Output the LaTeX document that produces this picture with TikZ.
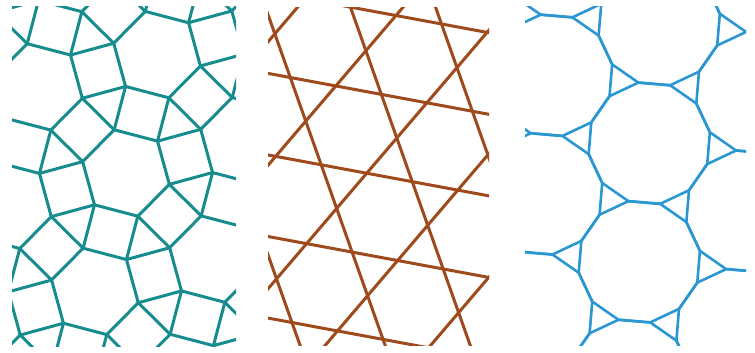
\documentclass[tikz,border=0pt]{standalone}
\usepackage{tikz}
\usetikzlibrary{calc}
\definecolor{tealbond}{HTML}{168C8E}
\definecolor{brownbond}{HTML}{9E4A1C}
\definecolor{bluebond}{HTML}{2B97D2}

\begin{document}
\begin{tikzpicture}[
  x=1pt, y=1pt,
  bond/.style={
    line width=3pt,
    line join=round,
    line cap=round
  },
  rhombi/.style={
    bond,
    draw=tealbond
  },
  kagome/.style={
    bond,
    draw=brownbond
  },
  star/.style={
    bond,
    line width=2.6pt,
    draw=bluebond
  }
]
\useasboundingbox (0,0) rectangle (755,353);

% Panel 1: squares between hexagons (3.4.6.4)
\begin{scope}
  \clip (12,6) rectangle (236,346);
  \begin{scope}[shift={(126,180)}, rotate=-14.7]
    \foreach \i in {-3,...,3}
      \foreach \j in {-3,...,3}
        \foreach \d in {30,90,150}
          \draw[rhombi, shift={(30:{\i*122.4})}, shift={(90:{\j*122.4})}]
            ({\d-30}:44.8) -- ({\d+30}:44.8) -- ({\d+15}:86.55) -- ({\d-15}:86.55) -- cycle;
  \end{scope}
\end{scope}

% Panel 2: three families of lines (kagome)
\begin{scope}
  \clip (268,7) rectangle (489,345);
  \begin{scope}[shift={(321.2,188.2)}, rotate=-10.5]
    \foreach \a/\o in {0/0, 120/0, 240/0.5}
      \foreach \m in {-4,...,4}
        \draw[kagome, rotate=\a] (-300,{(\m+\o)*80.2}) -- (300,{(\m+\o)*80.2});
  \end{scope}
\end{scope}

% Panel 3: dodecagons and triangles (3.12.12)
\begin{scope}
  \clip (525,7) rectangle (746,346);
  \begin{scope}[shift={(639.3,91.2)}, rotate=25.2]
    \foreach \i in {-3,...,3}
      \foreach \j in {-3,...,3}
        \draw[star, shift={(0:{\i*119})}, shift={(60:{\j*119})}]
          (15:61.6) \foreach \k in {1,...,11} { -- ({15+30*\k}:61.6) } -- cycle;
  \end{scope}
\end{scope}

\end{tikzpicture}
\end{document}
